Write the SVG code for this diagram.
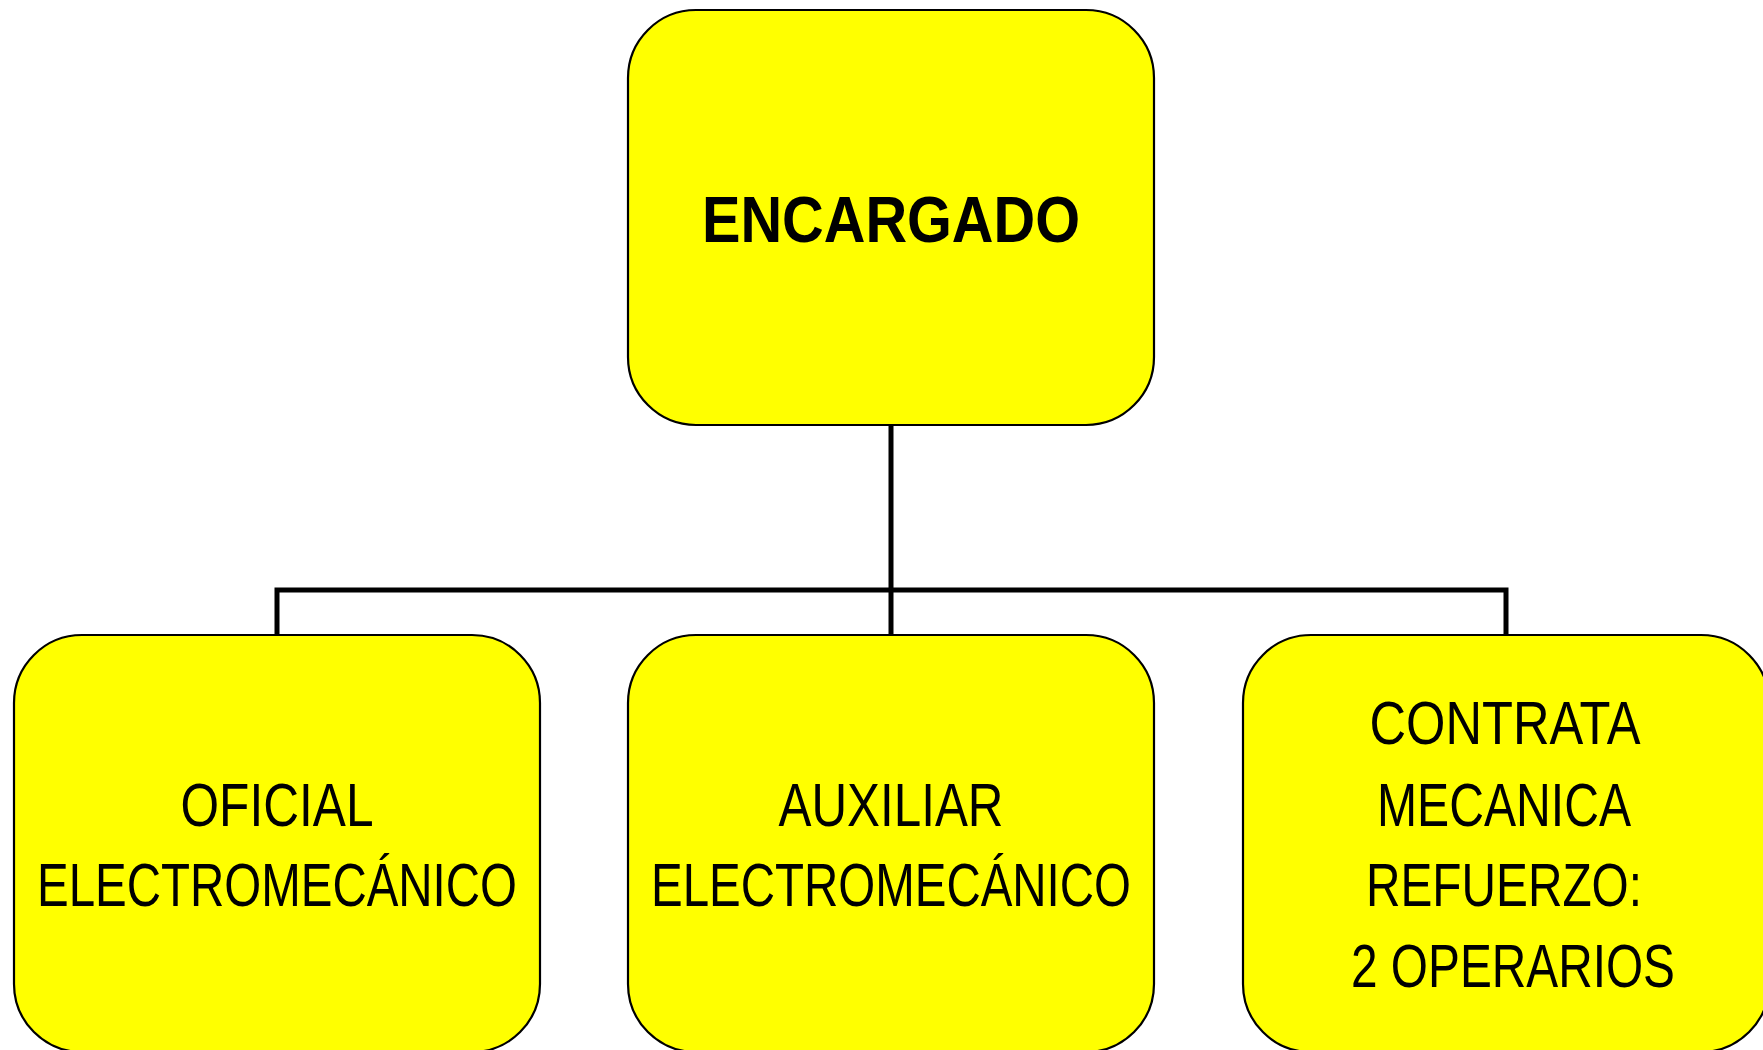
<svg xmlns="http://www.w3.org/2000/svg" width="1763" height="1050" viewBox="0 0 1763 1050">
<style>
.box{fill:#FFFF00;stroke:#000;stroke-width:2.2}
.conn{fill:none;stroke:#000;stroke-width:5}
text{font-family:"Liberation Sans",Arial,sans-serif;fill:#000;text-anchor:middle}
.t{font-size:62px}
.b{font-size:64px;font-weight:bold}
</style>
<rect width="1763" height="1050" fill="#fff"/>
<g id="connectors">
<path class="conn" d="M891 425 V590"/>
<path class="conn" d="M277 635 V590 H1506 V635"/>
<path class="conn" d="M891 590 V635"/>
</g>
<g id="encargado">
<rect class="box" x="628" y="10" width="526" height="415" rx="68" ry="68"/>
<text class="b" x="891" y="242" textLength="378" lengthAdjust="spacingAndGlyphs">ENCARGADO</text>
</g>
<g id="oficial">
<rect class="box" x="14" y="635" width="526" height="417" rx="68" ry="68"/>
<text class="t" x="277" y="826" textLength="193" lengthAdjust="spacingAndGlyphs">OFICIAL</text>
<text class="t" x="277" y="906" textLength="480" lengthAdjust="spacingAndGlyphs">ELECTROMECÁNICO</text>
</g>
<g id="auxiliar">
<rect class="box" x="628" y="635" width="526" height="417" rx="68" ry="68"/>
<text class="t" x="891" y="826" textLength="225" lengthAdjust="spacingAndGlyphs">AUXILIAR</text>
<text class="t" x="891" y="906" textLength="480" lengthAdjust="spacingAndGlyphs">ELECTROMECÁNICO</text>
</g>
<g id="contrata">
<rect class="box" x="1243" y="635" width="526" height="417" rx="68" ry="68"/>
<text class="t" x="1505" y="744" textLength="271" lengthAdjust="spacingAndGlyphs">CONTRATA</text>
<text class="t" x="1504" y="826" textLength="254" lengthAdjust="spacingAndGlyphs">MECANICA</text>
<text class="t" x="1504" y="906" textLength="276" lengthAdjust="spacingAndGlyphs">REFUERZO:</text>
<text class="t" x="1513" y="987" textLength="324" lengthAdjust="spacingAndGlyphs">2 OPERARIOS</text>
</g>
</svg>
